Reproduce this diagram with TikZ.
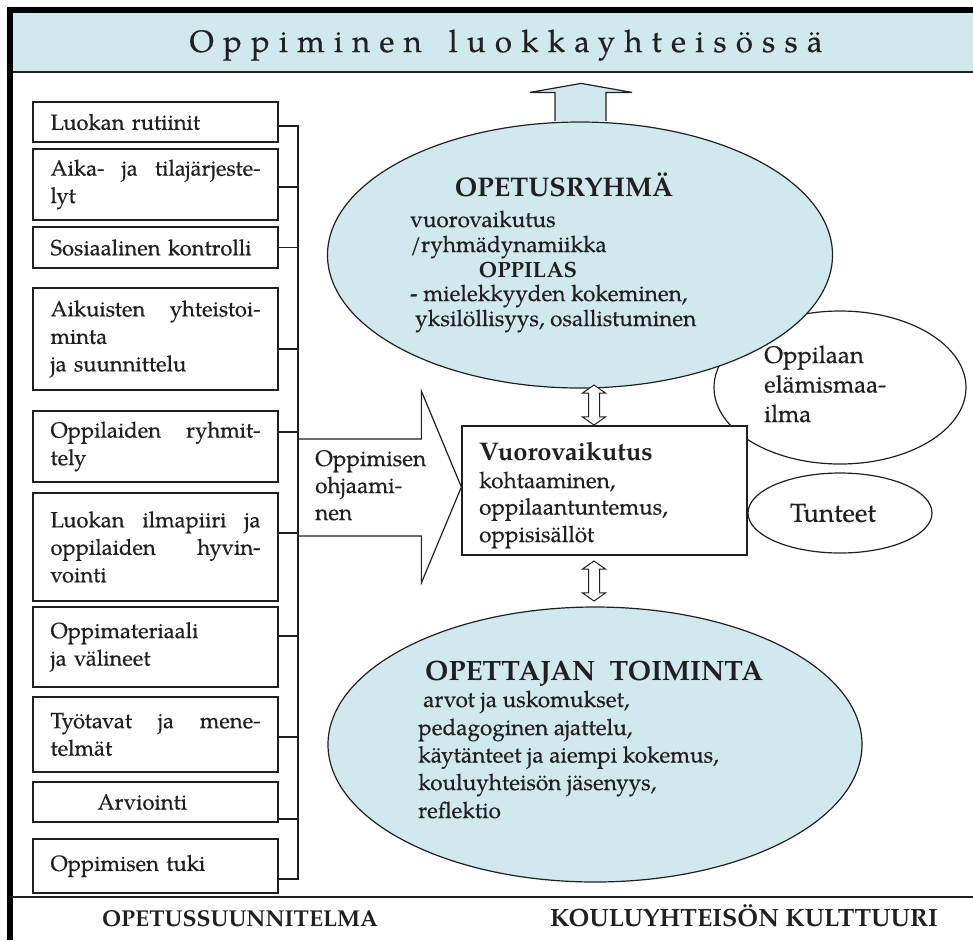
\documentclass[tikz,border=0pt]{standalone}
\usepackage{fontspec}
\setmainfont{TeX Gyre Pagella}[UprightFeatures={FakeBold=0.4}]
\newfontfamily\titlefont[LetterSpace=30,FakeBold=0.4]{TeX Gyre Pagella}
\usetikzlibrary{shapes.geometric,shapes.arrows,calc}
\definecolor{ink}{HTML}{231F20}
\definecolor{pale}{RGB}{208,233,239}
\newcommand{\fs}[2]{\fontsize{#1}{#2}\selectfont}
% a fully justified line inside the left column boxes
\newcommand{\jline}[1]{\makebox[210pt][s]{\spaceskip=0.25em plus 20em\relax #1}}

\begin{document}
\begin{tikzpicture}[x=1pt,y=-1pt,
  every node/.style={text=ink},
  lbox/.style={draw=ink, line width=1.3pt, fill=white, minimum width=245pt,
    text width=210pt, align=left, inner sep=0pt, font=\fs{22}{27.5},
    execute at begin node={\parindent=0pt}},
  bus/.style={draw=ink, line width=1.2pt},
  oval/.style={ellipse, draw=ink, line width=1.2pt, inner sep=0pt},
  blueoval/.style={oval, fill=pale},
  plain/.style={inner sep=0pt, anchor=base west, font=\fs{22.5}{27}},
  dblarrow/.style={double arrow, draw=ink, line width=1pt, fill=white,
    rotate=90, minimum height=40pt, minimum width=22pt, inner sep=5pt,
    double arrow head extend=6pt, double arrow tip angle=110}
]
\useasboundingbox (0,0) rectangle (973,940);

% title band and frame
\fill[pale] (10,10) rectangle (973,72);
\draw[ink, line width=1.5pt] (10,72) -- (973,72);
\draw[black, line width=6pt] (7,10) -- (973,10);
\draw[black, line width=6pt] (10,7) -- (10,940);
\node[anchor=base, inner sep=0pt, font=\titlefont\fs{31}{36}] (title) at (506,52)
  {Oppiminen\ \kern10pt luokkayhteisössä};

% the pupil's world, partly hidden behind the group and the interaction box
\node[oval, fill=white, minimum width=252pt, minimum height=153pt] (world) at (840,387.5) {};
\foreach \t/\y [count=\i] in {Oppilaan/363, elämismaa-/392.5, ilma/422}
  \node[plain, font=\fs{24}{30}] (w\i) at (764,\y) {\t};

% teaching group
\node[blueoval, minimum width=505pt, minimum height=266pt] (opet) at (580,255) {};
\node[anchor=base, inner sep=0pt, font=\fs{27}{32}\bfseries] (opetT) at (564,196) {OPETUSRYHMÄ};
\node[plain] (o1) at (410,227) {vuorovaikutus};
\node[plain] (o2) at (410,252) {/ryhmädynamiikka};
\node[anchor=base, inner sep=0pt, font=\fs{22}{27}\bfseries] (o3) at (528,277) {OPPILAS};
\node[plain] (o4) at (410,301) {\textbf{-} mielekkyyden kokeminen,};
\node[plain] (o5) at (415,326) {yksilöllisyys, osallistuminen};

% upward block arrow out of the group
\draw[ink, fill=pale, line width=1.2pt]
  ($(opet.north)+(-25,-0.6)$) -- ($(opet.north)+(-25,-29)$) -- ($(opet.north)+(-50,-29)$)
  -- ($(opet.north)+(1,-38)$) -- ($(opet.north)+(52,-29)$) -- ($(opet.north)+(26,-29)$)
  -- ($(opet.north)+(26,-0.6)$);

% teacher's action
\node[blueoval, minimum width=534pt, minimum height=275pt] (teach) at (595,744.5) {};
\node[plain, font=\fs{28}{32}\bfseries] (teachT) at (425,680) {OPETTAJAN\ \ TOIMINTA};
\node[plain] (p1) at (423,707) {arvot ja uskomukset,};
\node[plain] (p2) at (418,735) {pedagoginen ajattelu,};
\node[plain] (p3) at (418,762.5) {käytänteet ja aiempi kokemus,};
\node[plain] (p4) at (418,790) {kouluyhteisön jäsenyys,};
\node[plain] (p5) at (418,818) {reflektio};

% interaction box
\node[draw=ink, line width=1.3pt, fill=white, minimum width=285pt, minimum height=129pt,
  inner sep=0pt] (vbox) at (604.5,490.5) {};
\node[plain, font=\fs{25.5}{28}\bfseries] (v1) at (479,460) {Vuorovaikutus};
\node[plain] (v2) at (479,488) {kohtaaminen,};
\node[plain] (v3) at (479,514.5) {oppilaantuntemus,};
\node[plain] (v4) at (479,542) {oppisisällöt};

% feelings
\node[oval, fill=white, minimum width=184pt, minimum height=80pt, font=\fs{26}{30}] (feel)
  at (840,513) {Tunteet\hspace*{14pt}};

% two-way links between the group, the interaction and the teacher
\node[dblarrow] (da1) at (594,405) {};
\node[dblarrow] (da2) at (594,581) {};

% left column: curriculum elements
\node[lbox, minimum height=40pt]  (b1)  at (155.5,122)   {Luokan rutiinit};
\node[lbox, minimum height=71pt]  (b2)  at (155.5,184.5) {\jline{Aika- ja tilajärjeste-}\\lyt};
\node[lbox, minimum height=41pt]  (b3)  at (155.5,247.5) {Sosiaalinen kontrolli};
\node[lbox, minimum height=102pt] (b4)  at (155.5,339)   {\jline{Aikuisten yhteistoi-}\\minta\\ja suunnittelu};
\node[lbox, minimum height=71pt]  (b5)  at (155.5,446.5) {\jline{Oppilaiden ryhmit-}\\tely};
\node[lbox, minimum height=108pt] (b6)  at (155.5,547)   {\jline{Luokan ilmapiiri ja}\\\jline{oppilaiden hyvin-}\\vointi};
\node[lbox, minimum height=80pt]  (b7)  at (155.5,647)   {Oppimateriaali\\ja välineet};
\node[lbox, minimum height=75pt]  (b8)  at (155.5,734.5) {\jline{Työtavat ja mene-}\\telmät};
\node[lbox, minimum height=40pt]  (b9)  at (155.5,802)   {\hspace*{47pt}Arviointi};
\node[lbox, minimum height=54pt]  (b10) at (155.5,866)   {Oppimisen tuki};

% guiding arrow into the interaction box
\coordinate (tip) at ($(vbox.west)+(0,-3.5)$);
\draw[ink, line width=1.2pt, fill=white]
  ($(tip)+(-164,-48)$) -- ($(tip)+(-40,-48)$) -- ($(tip)+(-40,-96)$) -- (tip)
  -- ($(tip)+(-40,96)$) -- ($(tip)+(-40,49)$) -- ($(tip)+(-164,49)$);
\node[plain] (g1) at (315,466) {Oppimisen};
\node[plain] (g2) at (315,493) {ohjaami-};
\node[plain] (g3) at (315,520) {nen};

% collecting bus
\coordinate (bustop) at (298,126);
\coordinate (busbot) at (298,879);
\draw[bus, line cap=rect] (bustop) -- (busbot);
\foreach \b/\s in {b1/4, b2/2.5, b3/0, b4/10, b5/-14.5, b6/-14, b7/-11, b8/2.5, b9/17, b10/13} {
  \coordinate (s) at ($(\b.east)+(0,\s)$);
  \draw[bus] (s) -- (s -| bustop);
}

% bottom band
\draw[ink, line width=2.5pt] (10,897) -- (973,897);
\node[anchor=base, inner sep=0pt, font=\fs{23}{28}\bfseries] (ops) at (240,926) {OPETUSSUUNNITELMA};
\node[anchor=base, inner sep=0pt, font=\fs{25}{28}\bfseries] (kult) at (744,926) {KOULUYHTEISÖN KULTTUURI};
\end{tikzpicture}
\end{document}
